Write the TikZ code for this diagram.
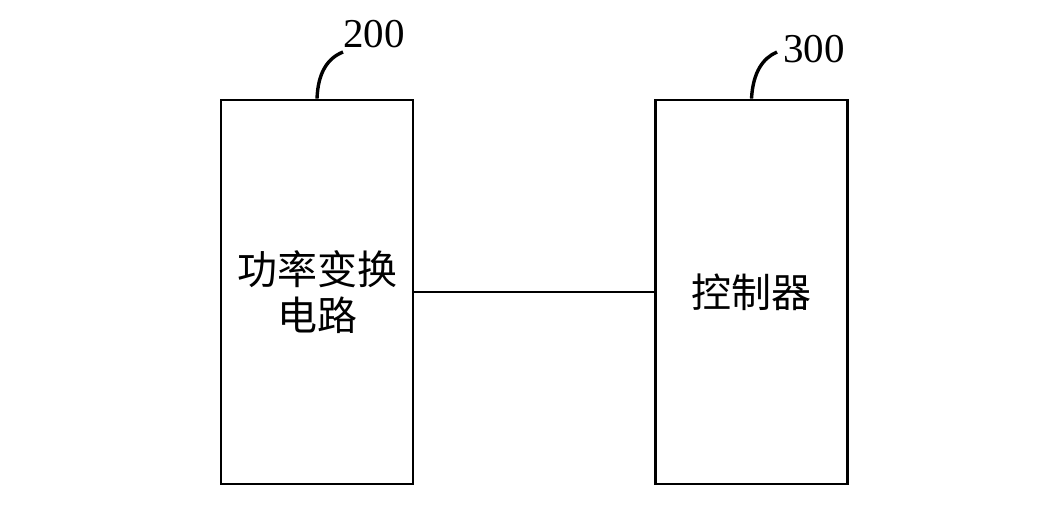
\documentclass[tikz,border=0pt]{standalone}
\usepackage{fontspec}
\setmainfont{Liberation Serif}
\newfontfamily\cjk{Noto Sans CJK SC}
\begin{document}
\begin{tikzpicture}[x=1pt,y=-1pt,
  blockbox/.style={draw=black,line width=2.8pt,minimum width=192pt,minimum height=384pt,inner sep=0pt,
    font=\cjk\fontsize{40}{46}\selectfont,align=center},
  wire/.style={line width=2.6pt},
  leader/.style={line width=3.4pt},
  numlabel/.style={font=\fontsize{41}{41}\selectfont,inner sep=0pt}]
\useasboundingbox (0,0) rectangle (1051,507);
\node[blockbox] (pcc) at (317,292) {功率变换\\电路};
\node[blockbox] (ctl) at (751.5,292) {控制器};
\draw[wire] (pcc.east) -- (ctl.west);
\coordinate (t2) at (343,52);
\coordinate (t3) at (777,52);
\draw[leader] (pcc.north) .. controls (318,72) and (328,58) .. (t2);
\draw[leader] (ctl.north) .. controls (753,72) and (763,58) .. (t3);
\node[numlabel] (l200) at (374,34) {200};
\node[numlabel] (l300) at (814,49) {300};
\end{tikzpicture}
\end{document}
